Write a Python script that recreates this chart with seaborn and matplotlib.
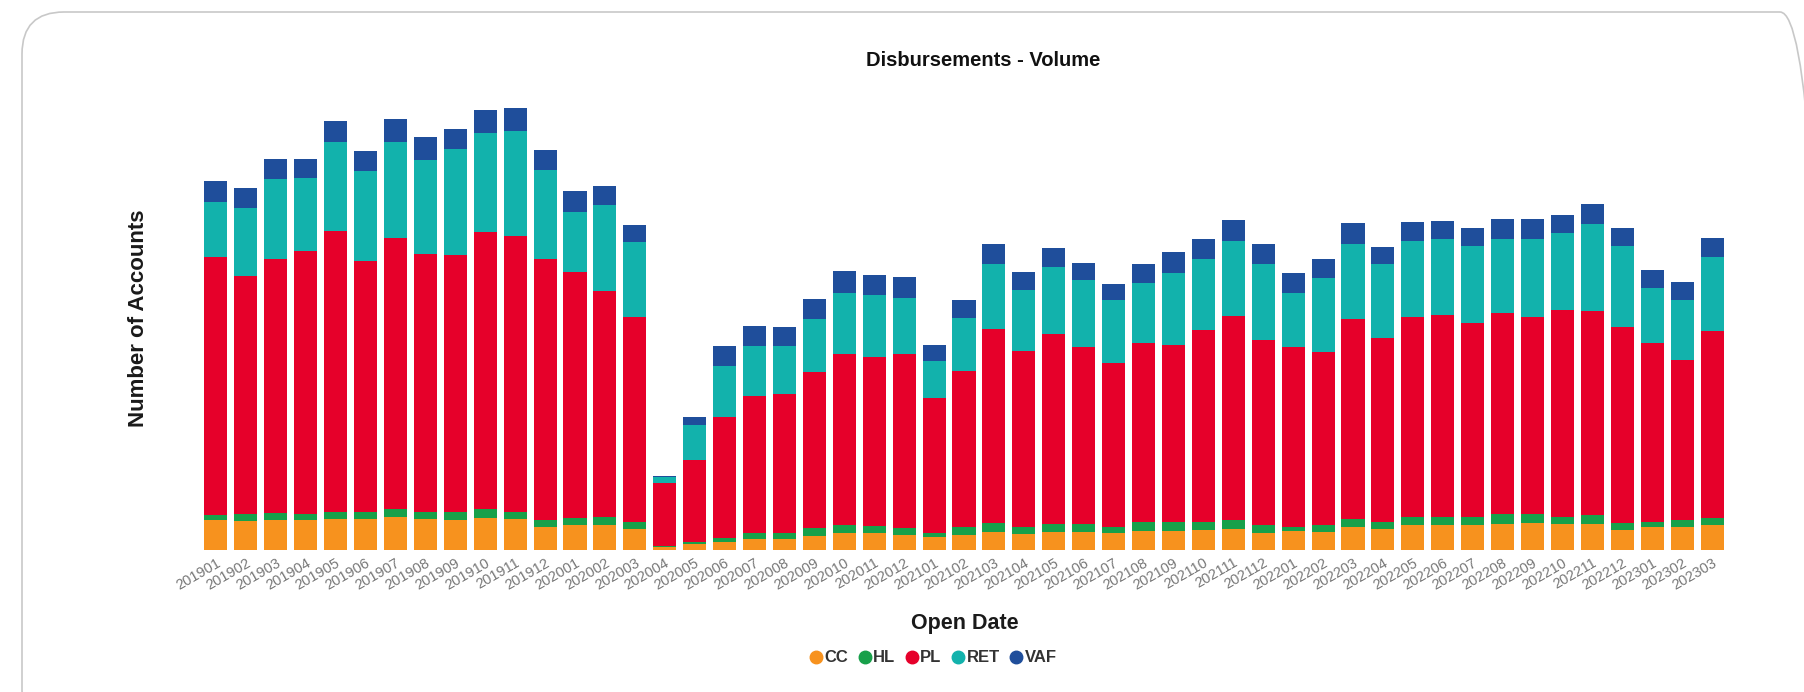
import matplotlib
matplotlib.use("Agg")
import matplotlib.pyplot as plt
import matplotlib.transforms as mtransforms
from matplotlib.patches import FancyBboxPatch
from matplotlib.lines import Line2D
import numpy as np
import pandas as pd
import seaborn as sns

# open date months
months = ["201901", "201902", "201903", "201904", "201905", "201906", "201907", "201908",
          "201909", "201910", "201911", "201912", "202001", "202002", "202003", "202004",
          "202005", "202006", "202007", "202008", "202009", "202010", "202011", "202012",
          "202101", "202102", "202103", "202104", "202105", "202106", "202107", "202108",
          "202109", "202110", "202111", "202112", "202201", "202202", "202203", "202204",
          "202205", "202206", "202207", "202208", "202209", "202210", "202211", "202212",
          "202301", "202302", "202303"]

# accounts per product (no axis scale shown)
cc = [30, 29, 30, 30, 31, 31, 33, 31, 30, 32, 31, 23,
      25, 25, 21, 3, 6, 8, 11, 11, 14, 17, 17, 15,
      13, 15, 18, 16, 18, 18, 17, 19, 19, 20, 21, 17,
      19, 18, 23, 21, 25, 25, 25, 26, 27, 26, 26, 20,
      23, 23, 25]
hl = [5, 7, 7, 6, 7, 7, 8, 7, 8, 9, 7, 7,
      7, 8, 7, 1, 2, 4, 6, 6, 8, 8, 7, 7,
      4, 8, 9, 7, 8, 8, 6, 9, 9, 8, 9, 8,
      4, 7, 8, 7, 8, 8, 8, 10, 9, 7, 9, 7,
      5, 7, 7]
pl = [258, 238, 254, 263, 281, 251, 271, 258, 257, 277, 276, 261,
      246, 226, 205, 63, 82, 121, 137, 139, 156, 171, 169, 174,
      135, 156, 194, 176, 190, 177, 164, 179, 177, 192, 204, 185,
      180, 173, 200, 184, 200, 202, 194, 201, 197, 207, 204, 196,
      179, 160, 187]
ret = [55, 68, 80, 73, 89, 90, 96, 94, 106, 99, 105, 89,
       60, 86, 75, 6, 35, 51, 50, 48, 53, 61, 62, 56,
       37, 53, 65, 61, 67, 67, 63, 60, 72, 71, 75, 76,
       54, 74, 75, 74, 76, 76, 77, 74, 78, 77, 87, 81,
       55, 60, 74]
vaf = [21, 20, 20, 19, 21, 20, 23, 23, 20, 23, 23, 20,
       21, 19, 17, 1, 8, 20, 20, 19, 20, 22, 20, 21,
       16, 18, 20, 18, 19, 17, 16, 19, 21, 20, 21, 20,
       20, 19, 21, 17, 19, 18, 18, 20, 20, 18, 20, 18,
       18, 18, 19]

products = ["CC", "HL", "PL", "RET", "VAF"]
colors = ["#F7921E", "#17A04A", "#E6002A", "#12B2AC", "#1F4E9B"]

df = pd.DataFrame({"month": months, "CC": cc, "HL": hl, "PL": pl, "RET": ret, "VAF": vaf})
cum = df[products].cumsum(axis=1)

sns.set_theme(style="white")
plt.rcParams["font.family"] = ["Liberation Sans", "DejaVu Sans"]

fig = plt.figure(figsize=(18.04, 6.92), dpi=100)

# card border around the chart
card = FancyBboxPatch((22, -40), 1800, 720, boxstyle="round,pad=0,rounding_size=42",
                      transform=mtransforms.IdentityTransform(),
                      facecolor="none", edgecolor="#c8c8c8", linewidth=1.2, zorder=-10)
fig.patches.append(card)

ax = fig.add_axes([201 / 1804, 142 / 692, 1526 / 1804, 470 / 692])
ax.set_facecolor("none")

# stacked bars: draw the running totals from the top layer down
for prod, col in zip(products[::-1], colors[::-1]):
    sns.barplot(x=df["month"], y=cum[prod], color=col, saturation=1, width=0.77,
                errorbar=None, ax=ax, zorder=2, linewidth=0)

ax.set_ylim(0, 470)
ax.set_xlim(-0.5, len(months) - 0.5)
ax.set_yticks([])
sns.despine(ax=ax, left=True, bottom=True)
ax.tick_params(axis="x", length=0, pad=4)
for lab in ax.get_xticklabels():
    lab.set_rotation(30)
    lab.set_ha("right")
    lab.set_rotation_mode("anchor")
    lab.set_color("#777777")
    lab.set_fontsize(10.5)

ax.set_xlabel("")
ax.set_ylabel("")
fig.text(983 / 1804, 1 - 60 / 692, "Disbursements - Volume", ha="center", va="center",
         fontsize=14.5, fontweight="bold", color="#111111")
fig.text(138 / 1804, 1 - 318 / 692, "Number of Accounts", ha="center", va="center",
         rotation=90, fontsize=16, fontweight="bold", color="#1a1a1a")
fig.text(965 / 1804, 1 - 624 / 692, "Open Date", ha="center", va="center",
         fontsize=15.5, fontweight="bold", color="#1a1a1a")

handles = [Line2D([], [], marker="o", linestyle="", markersize=9, color=c) for c in colors]
leg = fig.legend(handles, products, loc="center", bbox_to_anchor=(932 / 1804, 1 - 658 / 692),
                 ncol=5, frameon=False, handletextpad=0.0, columnspacing=0.5,
                 handlelength=1.0, prop={"weight": "bold", "size": 12})
for t in leg.get_texts():
    t.set_color("#333333")

fig.savefig("out.png", dpi=100)
